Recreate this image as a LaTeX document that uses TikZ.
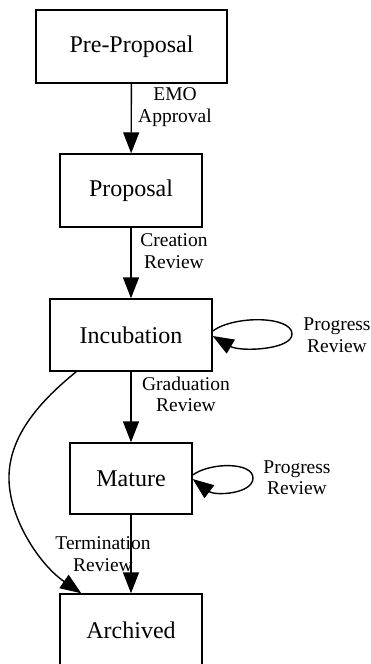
\documentclass[tikz,border=0pt]{standalone}
\usepackage{fontspec}
\setmainfont{Liberation Serif}
\usetikzlibrary{arrows.meta,calc}
\begin{document}
\begin{tikzpicture}[x=1pt,y=-1pt,
  state/.style={draw,line width=1.4pt,inner sep=0pt,font=\fontsize{24}{28}\selectfont},
  lbl/.style={align=center,inner sep=0pt,font=\fontsize{19.5}{21.5}\selectfont},
  conn/.style={line width=1.4pt,-{Triangle[length=21pt,width=16pt]}}]
\useasboundingbox (0,0) rectangle (371,664);
\node[state,minimum width=191pt,minimum height=73pt] (pre) at (131.5,46.5) {Pre-Proposal};
\node[state,minimum width=142pt,minimum height=73pt] (prop) at (131,190.5) {Proposal};
\node[state,minimum width=162pt,minimum height=72pt] (inc) at (131,335) {Incubation};
\node[state,minimum width=122pt,minimum height=71pt] (mat) at (131,478.5) {Mature};
\node[state,minimum width=142pt,minimum height=73pt] (arch) at (131,630.5) {Archived};

\node[lbl] (l1) at (175,107) {EMO\\Approval};
\node[lbl] (l2) at (174,251) {Creation\\Review};
\node[lbl] (l3) at (337,335) {Progress\\Review};
\node[lbl] (l4) at (186,394.5) {Graduation\\Review};
\node[lbl] (l5) at (297,477.5) {Progress\\Review};
\node[lbl] (l6) at (103,554) {Termination\\Review};

\draw[conn] (pre) -- (prop);
\draw[conn] (prop) -- (inc);
\draw[conn] (inc) -- (mat);
\draw[conn] (mat) -- (arch);

\draw[conn] ($(inc.east)+(0,-4)$) .. controls +(22,-16) and (292,316) .. (292,334)
  .. controls (292,350) and (240,352) .. ($(inc.east)+(0,1)$);
\draw[conn] ($(mat.east)+(0,-3.5)$) .. controls +(18,-13) and (253,462) .. (253,478)
  .. controls (253,494) and (215,496) .. ($(mat.east)+(0,0.5)$);

\draw[conn] ($(inc.south west)+(27,0)$) .. controls (35,405) and (8,440) .. (9,480)
  .. controls (10,520) and (40,565) .. ($(arch.north west)+(22,0)$);
\end{tikzpicture}
\end{document}
